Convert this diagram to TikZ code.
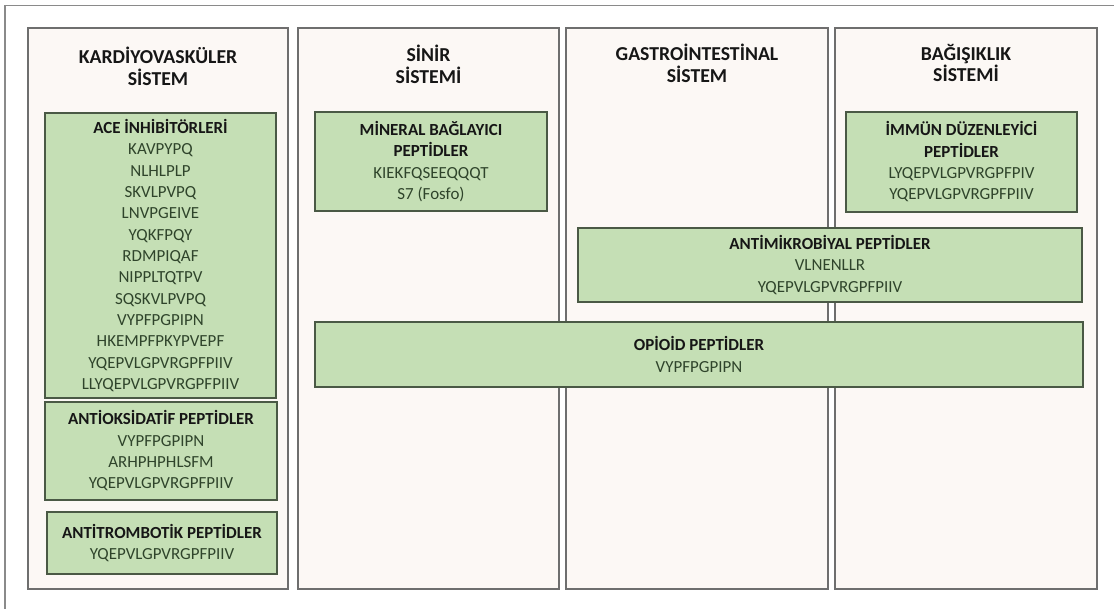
\documentclass[tikz,border=0pt]{standalone}
\usepackage{fontspec}
\setmainfont{Carlito}

\definecolor{colfill}{HTML}{FCF8F5}
\definecolor{colline}{HTML}{6E6E6E}
\definecolor{frameline}{HTML}{8A8A8A}
\definecolor{pepfill}{HTML}{C5DFB5}
\definecolor{pepline}{HTML}{4A5945}
\definecolor{seqtext}{HTML}{2F442B}
\definecolor{headtext}{HTML}{161616}

\tikzset{
  colbox/.style={draw=colline, fill=colfill, line width=1.6bp, inner sep=0pt},
  heading/.style={font=\fontsize{19.8}{22}\selectfont\bfseries, text=headtext,
    align=center, inner sep=0pt},
  pepbox/.style={draw=pepline, fill=pepfill, line width=1.3bp, inner sep=0pt,
    align=center, font=\fontsize{17}{21.4}\selectfont, text=seqtext},
}
\newcommand{\grp}[1]{{\bfseries\color{headtext}#1}}

\begin{document}
\begin{tikzpicture}[x=1bp, y=-1bp]
  \useasboundingbox (0,0) rectangle (1114,609);

  % outer frame (top and left edges)
  \draw[frameline, line width=1.6bp] (5,609.5) -- (5,5.5) -- (1114.5,5.5);

  % system columns
  \node[colbox, minimum width=260bp, minimum height=561bp] (col1) at (158,308.5) {};
  \node[colbox, minimum width=261bp, minimum height=561bp] (col2) at (428.5,308.5) {};
  \node[colbox, minimum width=262bp, minimum height=561bp] (col3) at (697,308.5) {};
  \node[colbox, minimum width=262bp, minimum height=561bp] (col4) at (966,308.5) {};

  \node[heading] (h1) at (158,66) {KARDİYOVASKÜLER\\SİSTEM};
  \node[heading] (h2) at (428.5,64) {SİNİR\\SİSTEMİ};
  \node[heading] (h3) at (697,63.5) {GASTROİNTESTİNAL\\SİSTEM};
  \node[heading] (h4) at (966,63) {BAĞIŞIKLIK\\SİSTEMİ};

  % peptide groups
  \node[pepbox, minimum width=231bp, minimum height=285bp] (ace) at (160.5,255.5)
    {\grp{ACE İNHİBİTÖRLERİ}\\KAVPYPQ\\NLHLPLP\\SKVLPVPQ\\LNVPGEIVE\\YQKFPQY\\RDMPIQAF\\NIPPLTQTPV\\SQSKVLPVPQ\\VYPFPGPIPN\\HKEMPFPKYPVEPF\\YQEPVLGPVRGPFPIIV\\LLYQEPVLGPVRGPFPIIV};
  \node[pepbox, minimum width=232bp, minimum height=98bp] (antiox) at (161,451)
    {\grp{ANTİOKSİDATİF PEPTİDLER}\\VYPFPGPIPN\\ARHPHPHLSFM\\YQEPVLGPVRGPFPIIV};
  \node[pepbox, minimum width=230bp, minimum height=62bp] (antitromb) at (162,543)
    {\grp{ANTİTROMBOTİK PEPTİDLER}\\YQEPVLGPVRGPFPIIV};
  \node[pepbox, minimum width=232bp, minimum height=99bp] (mineral) at (431,161.5)
    {\grp{MİNERAL BAĞLAYICI}\\\grp{PEPTİDLER}\\KIEKFQSEEQQQT\\S7 (Fosfo)};
  \node[pepbox, minimum width=231bp, minimum height=100bp] (immun) at (961.5,162)
    {\grp{İMMÜN DÜZENLEYİCİ}\\\grp{PEPTİDLER}\\LYQEPVLGPVRGPFPIV\\YQEPVLGPVRGPFPIIV};
  \node[pepbox, minimum width=504bp, minimum height=74bp] (antimik) at (830,265)
    {\grp{ANTİMİKROBİYAL PEPTİDLER}\\VLNENLLR\\YQEPVLGPVRGPFPIIV};
  \node[pepbox, minimum width=768bp, minimum height=65bp] (opioid) at (699,354.5)
    {\grp{OPİOİD PEPTİDLER}\\VYPFPGPIPN};
\end{tikzpicture}
\end{document}
